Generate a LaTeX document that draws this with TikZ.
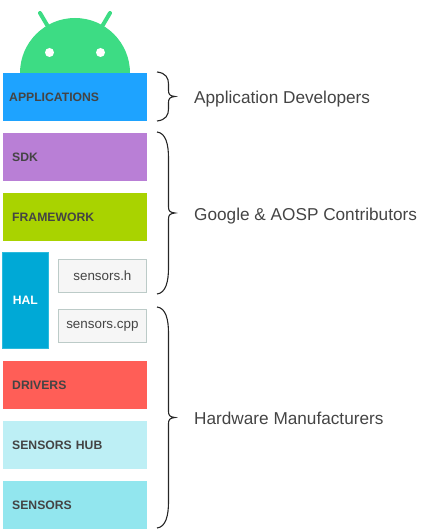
\documentclass[tikz,border=0pt]{standalone}
\usepackage{fontspec}
\setmainfont{Liberation Sans}
\usetikzlibrary{calc}
\definecolor{androidgreen}{HTML}{3DDC84}
\definecolor{appblue}{HTML}{1EA3FF}
\definecolor{sdkpurple}{HTML}{B97FD6}
\definecolor{fwgreen}{HTML}{A9D300}
\definecolor{halblue}{HTML}{00A9D6}
\definecolor{haledge}{HTML}{2BBBDD}
\definecolor{filefill}{HTML}{F6F6F6}
\definecolor{fileedge}{HTML}{BCCBC8}
\definecolor{drvred}{HTML}{FF5E57}
\definecolor{hubblue}{HTML}{BDEFF5}
\definecolor{sensblue}{HTML}{92E6EE}
\definecolor{inkgrey}{HTML}{444444}
\tikzset{
  layer/.style = {anchor = north west, minimum height = 48pt, text width = 126pt, inner xsep = 9pt, inner ysep = 0pt, align = left, text = inkgrey, font = \fontsize{12.2}{14}\selectfont\bfseries},
  filebox/.style = {draw = fileedge, fill = filefill, thick, anchor = north west, minimum width = 88pt, minimum height = 33pt, inner sep = 0pt, text = inkgrey, font = \fontsize{13.4}{15}\selectfont},
  group/.style = {anchor = base west, inner sep = 0pt, text = inkgrey, font = \fontsize{17.2}{20}\selectfont},
  curly/.style = {draw = black!85, line width = 1.1pt}
}
\newcommand{\curly}[3]{
    \coordinate (mid) at ($(#1)!.5!(#2)$);
    \draw[curly] (#1) .. controls ($(#1)+(9,-1)$) and ($(#1)+(11.5,-#3*.5)$) .. ($(#1)+(11.5,-#3)$)
        -- ($(mid)+(11.5,6)$) .. controls ($(mid)+(11.5,2)$) and ($(mid)+(13,0.5)$) .. ($(mid)+(18,0)$)
        .. controls ($(mid)+(13,-0.5)$) and ($(mid)+(11.5,-2)$) .. ($(mid)+(11.5,-6)$)
        -- ($(#2)+(11.5,#3)$) .. controls ($(#2)+(11.5,#3*.5)$) and ($(#2)+(9,1)$) .. (#2);
}
\begin{document}
\begin{tikzpicture}[x = 1pt, y = 1pt]
    \useasboundingbox (0, 0) rectangle (425, 532);
    % robot
    \draw[androidgreen, line width = 4pt, line cap = round] (40, 519) -- (50, 502);
    \draw[androidgreen, line width = 4pt, line cap = round] (110, 519) -- (100, 502);
    \fill[androidgreen] (20, 459) arc[start angle = 180, end angle = 0, radius = 55pt] -- cycle;
    \fill[white] (49.5, 479.5) circle (4.5pt);
    \fill[white] (100.5, 479.5) circle (4.5pt);
    % stack
    \node[layer, fill = appblue, text width = 132pt, inner xsep = 6pt] (apps) at (3, 459) {APPLICATIONS};
    \node[layer, fill = sdkpurple] (sdk) at (3, 399) {SDK};
    \node[layer, fill = fwgreen] (framework) at (3, 339) {FRAMEWORK};
    \node[draw = haledge, fill = halblue, thick, anchor = north west, minimum width = 46pt, minimum height = 96pt, inner sep = 0pt, text = white, font = \fontsize{12.2}{14}\selectfont\bfseries] (hal) at (2, 280) {HAL};
    \node[filebox] (sensorsh) at (58, 273) {sensors.h};
    \node[filebox] (sensorscpp) at (58, 223) {sensors.cpp};
    \node[layer, fill = drvred] (drivers) at (3, 171) {DRIVERS};
    \node[layer, fill = hubblue] (hub) at (3, 111) {SENSORS HUB};
    \node[layer, fill = sensblue] (sensors) at (3, 51) {SENSORS};
    % who owns what
    \coordinate (appstop) at (157, 460);
    \coordinate (appsend) at (157, 411);
    \coordinate (aosptop) at (157, 400);
    \coordinate (aospend) at (157, 238);
    \coordinate (hwtop) at (157, 225);
    \coordinate (hwend) at (157, 4);
    \curly{appstop}{appsend}{12}
    \curly{aosptop}{aospend}{26}
    \curly{hwtop}{hwend}{26}
    \node[group] (appdevs) at (194, 428.3) {Application Developers};
    \node[group] (aosp) at (194, 311.3) {Google \& AOSP Contributors};
    \node[group] (hw) at (194, 107.3) {Hardware Manufacturers};
\end{tikzpicture}
\end{document}
